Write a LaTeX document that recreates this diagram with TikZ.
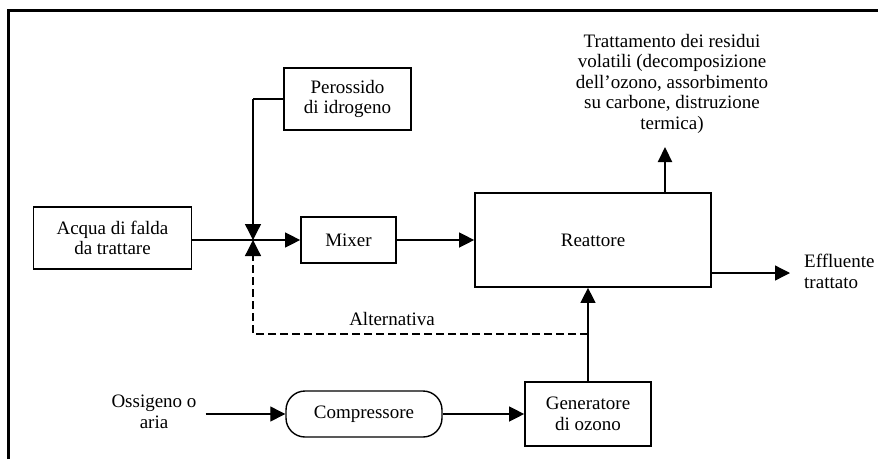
\documentclass[tikz,border=0pt]{standalone}
\usepackage{fontspec}
\setmainfont{Liberation Serif}
\usetikzlibrary{arrows.meta,calc}
\begin{document}
\begin{tikzpicture}[x=1pt,y=-1pt,
  every node/.style={font=\fontsize{19}{20.5}\selectfont, inner sep=0pt, align=center},
  box/.style={draw, line width=1.7pt, minimum width=#1},
  arr/.style={line width=1.3pt, -{Triangle[length=15pt,width=15pt]}},
  tip/.style={line width=1.3pt, -{Triangle[length=16pt,width=16pt]}},
  altline/.style={line width=1.3pt, dash pattern=on 8pt off 4pt, -{Triangle[length=16pt,width=16pt]}}
]
\useasboundingbox (0,0) rectangle (878,459);
% frame
\draw[line width=2.4pt] (8.5,459) -- (8.5,10.5) -- (878,10.5);

% nodes
\node[box=158pt, minimum height=62pt] (acqua) at (112.5,238) {Acqua di falda\\da trattare};
\node[box=127pt, minimum height=62pt] (perox) at (347.5,99) {Perossido\\di idrogeno};
\node[box=95pt, minimum height=46pt] (mixer) at (348.5,240) {Mixer};
\node[box=236pt, minimum height=94pt] (reatt) at (593,240) {Reattore};
\node[box=126pt, minimum height=64pt] (gener) at (588,414) {Generatore\\di ozono};
\node[draw, line width=1.4pt, rounded corners=19pt, minimum width=156pt, minimum height=46pt] (compr) at (364,414) {Compressore};
\node[anchor=north, align=center] (resid) at (672,34) {Trattamento dei residui\\volatili (decomposizione\\dell'ozono, assorbimento\\su carbone, distruzione\\termica)};
\node[anchor=north west, align=left] (eff) at (804,254) {Effluente\\trattato};
\node[anchor=north, align=center] (ossig) at (154,395) {Ossigeno o\\\hspace*{0pt}\hfill aria\hfill\hspace*{0pt}};
\node[anchor=base] (altlab) at (392,325) {Alternativa};

% coordinates
\coordinate (j) at (253,240);
\coordinate (treat) at (665,147);
\coordinate (effend) at (790,273);
\coordinate (altc) at (588,334);

% connectors
\draw[arr] (acqua.east |- j) -- (mixer.west);
\draw[line width=2pt] (perox.west) -- (perox.west -| j);
\draw[tip] (perox.west -| j) -- (j);
\draw[altline] (altc) -| (j);
\draw[arr] (mixer.east) -- (reatt.west);
\draw[line width=2.2pt, -{Triangle[length=15pt,width=14pt]}] (reatt.north -| treat) -- (treat);
\draw[arr] (reatt.east |- effend) -- (effend);
\draw[arr] (gener.north) -- (gener.north |- reatt.south);
\draw[arr] ([xshift=9pt]ossig.east |- compr.west) -- (compr.west);
\draw[arr] (compr.east) -- (compr.east -| gener.west);
\end{tikzpicture}
\end{document}
